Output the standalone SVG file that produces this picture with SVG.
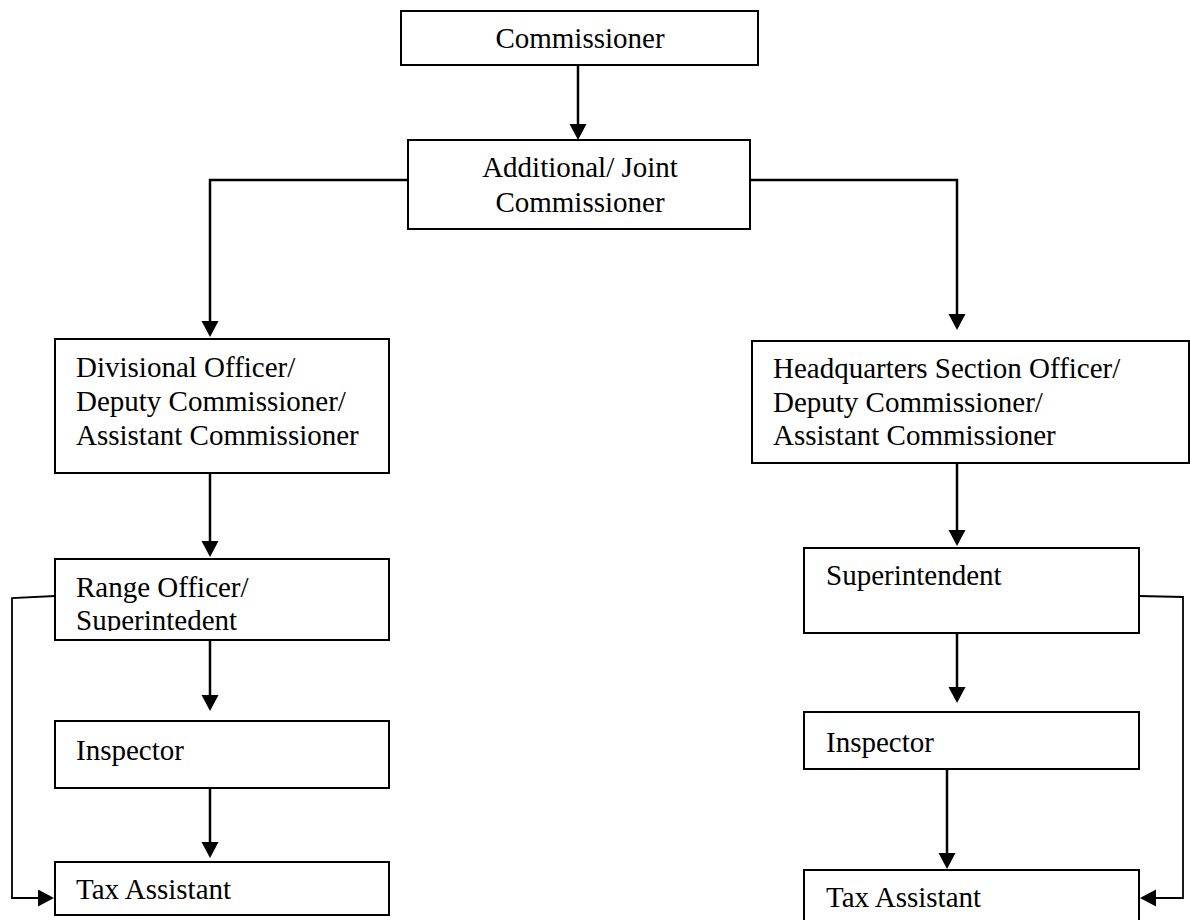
<svg xmlns="http://www.w3.org/2000/svg" width="1190" height="920" viewBox="0 0 1190 920">
<style>
.box{fill:#fff;stroke:#000;stroke-width:2}
text{font-family:'Liberation Serif',serif;font-size:29px;fill:#000}
.c{fill:none;stroke:#000;stroke-width:2.5}
.f{fill:none;stroke:#000;stroke-width:1.8}
</style>
<defs>
<marker id="ah" markerUnits="userSpaceOnUse" markerWidth="20" markerHeight="20" refX="2" refY="8.5" orient="auto">
<path d="M0,0 L16,8.5 L0,17 z" fill="#000"/>
</marker>
<clipPath id="rclip"><rect x="55" y="559" width="334" height="72"/></clipPath>
</defs>
<rect width="1190" height="920" fill="#fff"/>
<g id="connectors">
<line class="c" x1="578" y1="65" x2="578" y2="126" marker-end="url(#ah)"/>
<polyline class="c" points="408,180 210,180 210,323" marker-end="url(#ah)"/>
<polyline class="c" points="750,180 957,180 957,316" marker-end="url(#ah)"/>
<line class="c" x1="210" y1="473" x2="210" y2="543" marker-end="url(#ah)"/>
<line class="c" x1="210" y1="640" x2="210" y2="697" marker-end="url(#ah)"/>
<line class="c" x1="210" y1="788" x2="210" y2="844" marker-end="url(#ah)"/>
<polyline class="f" points="55,596 12,598 12,898 40,898" marker-end="url(#ah)"/>
<line class="c" x1="957" y1="460" x2="957" y2="532" marker-end="url(#ah)"/>
<line class="c" x1="957" y1="633" x2="957" y2="689" marker-end="url(#ah)"/>
<line class="c" x1="947" y1="769" x2="947" y2="855" marker-end="url(#ah)"/>
<polyline class="f" points="1139,596 1183,597 1183,898 1154,898" marker-end="url(#ah)"/>
</g>
<g id="commissioner">
<rect class="box" x="401" y="11" width="357" height="54"/>
<text x="580" y="48" text-anchor="middle">Commissioner</text>
</g>
<g id="additional">
<rect class="box" x="408" y="140" width="342" height="89"/>
<text x="580" y="177" text-anchor="middle">Additional/ Joint</text>
<text x="580" y="212" text-anchor="middle">Commissioner</text>
</g>
<g id="divisional">
<rect class="box" x="55" y="339" width="334" height="134"/>
<text x="76" y="377">Divisional Officer/</text>
<text x="76" y="411">Deputy Commissioner/</text>
<text x="76" y="445">Assistant Commissioner</text>
</g>
<g id="range">
<rect class="box" x="55" y="559" width="334" height="81"/>
<g clip-path="url(#rclip)">
<text x="76" y="597">Range Officer/</text>
<text x="76" y="630">Superintedent</text>
</g>
</g>
<g id="inspector-left">
<rect class="box" x="55" y="721" width="334" height="67"/>
<text x="76" y="760">Inspector</text>
</g>
<g id="tax-left">
<rect class="box" x="55" y="862" width="334" height="53"/>
<text x="76" y="899">Tax Assistant</text>
</g>
<g id="headquarters">
<rect class="box" x="752" y="341" width="437" height="122"/>
<text x="773" y="378">Headquarters Section Officer/</text>
<text x="773" y="412">Deputy Commissioner/</text>
<text x="773" y="445">Assistant Commissioner</text>
</g>
<g id="superintendent">
<rect class="box" x="804" y="548" width="335" height="85"/>
<text x="826" y="585">Superintendent</text>
</g>
<g id="inspector-right">
<rect class="box" x="804" y="712" width="335" height="57"/>
<text x="826" y="752">Inspector</text>
</g>
<g id="tax-right">
<rect class="box" x="804" y="870" width="335" height="52"/>
<text x="826" y="907">Tax Assistant</text>
</g>
</svg>
